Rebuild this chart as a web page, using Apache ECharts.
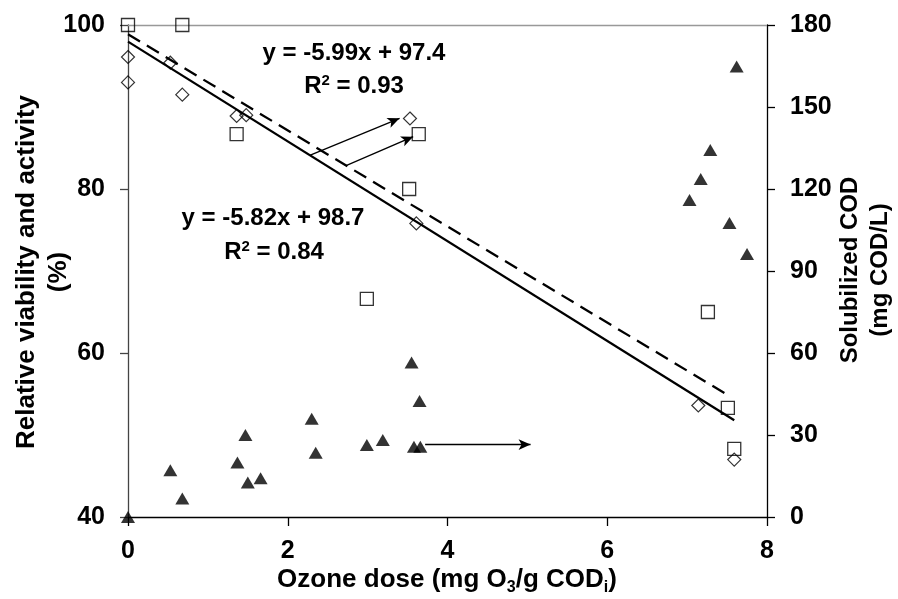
<!DOCTYPE html>
<html>
<head>
<meta charset="utf-8">
<script src="https://cdn.jsdelivr.net/npm/echarts@6/dist/echarts.min.js"></script>
<style>html,body{margin:0;padding:0;background:#fff}#c{width:898px;height:599px}</style>
</head>
<body>
<div id="c"></div>
<script>
// Open squares (left axis, %)
const squaresX = [0, 0.68, 1.36, 2.99, 3.52, 3.64, 7.26, 7.51, 7.59];
const squaresY = [100, 100, 86.7, 66.6, 80, 86.7, 65.0, 53.3, 48.3];
// Open diamonds (left axis, %)
const diamondsX = [0, 0, 0.53, 0.68, 1.36, 1.48, 3.53, 3.61, 7.14, 7.59];
const diamondsY = [96.1, 93.0, 95.4, 91.5, 88.9, 89.0, 88.6, 75.8, 53.6, 47.0];
// Filled triangles (right axis, mg COD/L)
const trianglesX = [0, 0.53, 0.68, 1.37, 1.47, 1.5, 1.66, 2.3, 2.35, 2.99, 3.19, 3.55, 3.65, 3.58, 3.66, 7.03, 7.17, 7.29, 7.53, 7.62, 7.75];
const trianglesY = [0, 17.1, 6.8, 19.9, 30, 12.6, 14.2, 35.9, 23.5, 26.3, 28.2, 56.5, 42.4, 25.7, 25.7, 116, 123.7, 134.3, 107.6, 164.8, 96.2];
// Trend lines (endpoints)
const solidTrendX = [0, 7.59];
const solidTrendY = [97.97, 51.8];
const dashedTrendX = [0, 7.52];
const dashedTrendY = [98.87, 54.8];
// Arrows
const arrow1 = [[2.275, 84.11], [3.40, 88.62]];
const arrow2 = [[2.73, 82.84], [3.57, 86.38]];
const arrow3 = [[3.72, 26.5], [5.04, 26.5]];
// Axes
const xRange = [0, 8, 2];
const leftRange = [40, 100, 20];
const rightRange = [0, 180, 30];

const zip = (a, b) => a.map((v, i) => [v, b[i]]);
const FONT = '"Liberation Sans", Arial, sans-serif';

const chart = echarts.init(document.getElementById('c'), null, {renderer: 'canvas'});
const labelStyle = {fontFamily: FONT, fontWeight: 'bold', fontSize: 25, color: '#000'};

chart.setOption({
  animation: false,
  backgroundColor: '#fff',
  grid: {left: 128, right: 131, top: 25, bottom: 82, containLabel: false},
  xAxis: [{
    type: 'value', min: xRange[0], max: xRange[1], interval: xRange[2],
    axisLine: {show: true, onZero: false, lineStyle: {color: '#000', width: 1.3}},
    axisTick: {show: true, length: 9, lineStyle: {color: '#000', width: 1.3}},
    axisLabel: Object.assign({margin: 22}, labelStyle),
    splitLine: {show: false}
  }, {
    type: 'value', position: 'top', min: xRange[0], max: xRange[1],
    axisLine: {show: true, onZero: false, lineStyle: {color: '#999', width: 1.3}},
    axisTick: {show: false}, axisLabel: {show: false}, splitLine: {show: false}
  }],
  yAxis: [{
    type: 'value', min: leftRange[0], max: leftRange[1], interval: leftRange[2],
    axisLine: {show: true, onZero: false, lineStyle: {color: '#444', width: 1.3}},
    axisTick: {show: true, length: 8, lineStyle: {color: '#444', width: 1.3}},
    axisLabel: Object.assign({margin: 23}, labelStyle),
    splitLine: {show: false}
  }, {
    type: 'value', position: 'right', min: rightRange[0], max: rightRange[1], interval: rightRange[2],
    axisLine: {show: true, onZero: false, lineStyle: {color: '#000', width: 1.3}},
    axisTick: {show: true, length: 8, lineStyle: {color: '#000', width: 1.3}},
    axisLabel: Object.assign({margin: 23}, labelStyle),
    splitLine: {show: false}
  }],
  series: [
    {
      type: 'line', data: zip(solidTrendX, solidTrendY), symbol: 'none',
      lineStyle: {color: '#000', width: 2.3}, z: 2,
      markLine: {
        silent: true, symbol: ['none', 'arrow'], symbolSize: [8, 12],
        label: {show: false},
        lineStyle: {color: '#000', width: 1.3, type: 'solid'},
        data: [
          [{coord: arrow1[0]}, {coord: arrow1[1]}],
          [{coord: arrow2[0]}, {coord: arrow2[1]}]
        ]
      }
    },
    {
      type: 'line', data: zip(dashedTrendX, dashedTrendY), symbol: 'none',
      lineStyle: {color: '#000', width: 2.3, type: [14, 8]}, z: 2
    },
    {
      type: 'scatter', data: zip(squaresX, squaresY), symbol: 'rect', symbolSize: 13,
      itemStyle: {color: 'rgba(0,0,0,0)', borderColor: '#000', borderWidth: 1.3}, z: 3
    },
    {
      type: 'scatter', data: zip(diamondsX, diamondsY), symbol: 'diamond', symbolSize: 13,
      itemStyle: {color: 'rgba(0,0,0,0)', borderColor: '#000', borderWidth: 1.2}, z: 3
    },
    {
      type: 'scatter', yAxisIndex: 1, data: zip(trianglesX, trianglesY), symbol: 'triangle', symbolSize: [14, 12],
      itemStyle: {color: '#000'}, z: 3,
      markLine: {
        silent: true, symbol: ['none', 'arrow'], symbolSize: [8, 12],
        label: {show: false},
        lineStyle: {color: '#000', width: 1.3, type: 'solid'},
        data: [[{coord: arrow3[0]}, {coord: arrow3[1]}]]
      }
    }
  ],
  graphic: [
    {type: 'text', x: 354, y: 53, style: {text: 'y = -5.99x + 97.4', font: 'bold 24px ' + FONT, fill: '#000', align: 'center', verticalAlign: 'middle'}},
    {type: 'text', x: 354, y: 86, style: {text: '{a|R}{s|2}{a| = 0.93}', align: 'center', verticalAlign: 'middle',
      rich: {a: {fontFamily: FONT, fontWeight: 'bold', fontSize: 24, fill: '#000'}, s: {fontFamily: FONT, fontWeight: 'bold', fontSize: 15, fill: '#000', padding: [0, 0, 11, 0]}}}},
    {type: 'text', x: 273, y: 218, style: {text: 'y = -5.82x + 98.7', font: 'bold 24px ' + FONT, fill: '#000', align: 'center', verticalAlign: 'middle'}},
    {type: 'text', x: 274, y: 252, style: {text: '{a|R}{s|2}{a| = 0.84}', align: 'center', verticalAlign: 'middle',
      rich: {a: {fontFamily: FONT, fontWeight: 'bold', fontSize: 24, fill: '#000'}, s: {fontFamily: FONT, fontWeight: 'bold', fontSize: 15, fill: '#000', padding: [0, 0, 11, 0]}}}},
    {type: 'text', x: 447, y: 580, style: {text: '{a|Ozone dose (mg O}{b|3}{a|/g COD}{b|i}{a|)}', align: 'center', verticalAlign: 'middle',
      rich: {a: {fontFamily: FONT, fontWeight: 'bold', fontSize: 26, fill: '#000'}, b: {fontFamily: FONT, fontWeight: 'bold', fontSize: 16, fill: '#000', padding: [16, 0, 0, 0]}}}},
    {type: 'text', x: 27, y: 272, rotation: Math.PI / 2, style: {text: 'Relative viability and activity', font: 'bold 26px ' + FONT, fill: '#000', align: 'center', verticalAlign: 'middle'}},
    {type: 'text', x: 59, y: 272, rotation: Math.PI / 2, style: {text: '(%)', font: 'bold 26px ' + FONT, fill: '#000', align: 'center', verticalAlign: 'middle'}},
    {type: 'text', x: 850, y: 270, rotation: Math.PI / 2, style: {text: 'Solubilized COD', font: 'bold 24px ' + FONT, fill: '#000', align: 'center', verticalAlign: 'middle'}},
    {type: 'text', x: 880, y: 270, rotation: Math.PI / 2, style: {text: '(mg COD/L)', font: 'bold 24px ' + FONT, fill: '#000', align: 'center', verticalAlign: 'middle'}}
  ]
});
</script>
</body>
</html>
